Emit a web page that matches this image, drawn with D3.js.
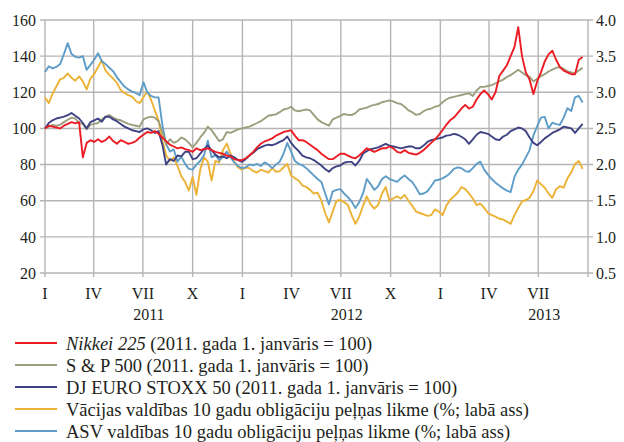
<!DOCTYPE html>
<html>
<head>
<meta charset="utf-8">
<script src="https://cdn.jsdelivr.net/npm/d3@7"></script>
<style>
  body { margin: 0; background: #fff; }
  svg { display: block; font-family: "Liberation Serif", "Times New Roman", serif; }
  .grid line { stroke: #b5b5b5; stroke-width: 1.4; }
  .tick-label { font-size: 16px; fill: #231f20; }
  .legend text { font-size: 18.5px; fill: #231f20; }
</style>
</head>
<body>
<svg class="chart"></svg>
<script>
// weekly observations, starting 1 Jan 2011
const startDate = new Date(2011, 0, 1);

const nikkei = [
  100, 101.5, 101, 100.5, 100, 101.5, 102.5, 103.5, 102.8, 103.5,
  84, 92, 93.5, 92.5, 94, 92.5, 93.5, 95.5, 93, 91.5,
  93.5, 92.5, 91.5, 92, 93, 95, 96.5, 98, 97.5, 98.5,
  97, 95, 93, 91, 90, 89, 89.5, 88.5, 88, 87,
  89, 88, 88.5, 89, 88, 87, 86.5, 86, 85, 84.5,
  83, 82.5, 82.4, 83.5, 85, 87, 89.5, 91.5, 92.8, 93.5,
  94.5, 96, 97, 98, 98.5, 99, 96, 93.5, 93.5, 92.5,
  91, 89.5, 88, 86, 84.5, 83, 83, 84.5, 86, 86,
  85, 84, 83.5, 85, 87, 89, 88, 87, 88, 89,
  89, 90, 89, 87, 86.5, 88, 86.5, 86, 85.5, 86.5,
  88, 90, 92, 94, 96.3, 99, 102, 104.5, 106, 108.5,
  111, 113, 111, 112, 116, 119, 121, 119, 116, 120,
  129, 132, 135, 140, 145, 156, 140, 131, 127, 119,
  126, 131, 137, 141, 143, 138, 134, 132, 131, 130,
  130, 138, 139.5
];

const sp500 = [
  100, 101, 102, 101.5, 102, 103.5, 104.8, 106, 105.5, 103,
  102.5, 99.5, 102, 102.5, 103, 105, 106.5, 107.4, 106, 105,
  104.5, 103.5, 102.5, 102, 101.5, 101, 105, 106, 106.5, 106,
  104, 98, 91, 94, 92, 93, 95, 94, 92, 89.5,
  92, 95, 97.5, 101, 99, 96, 93, 94, 98, 97.5,
  98.5, 99.5, 100, 100.5, 101, 102, 103, 104, 105.5, 107,
  107.4, 107.8, 109, 110.5, 111, 112, 110, 109.5, 110, 110.5,
  110, 107.5, 105, 103.5, 102.5, 101.5, 105, 106, 107, 108,
  107.5, 107.4, 108.5, 110.5, 111, 111.5, 112.5, 113, 113.5, 114.5,
  115, 115.5, 115, 114, 113.5, 112, 110, 109, 107.5, 108,
  109.5, 110.5, 111, 112, 112.5, 114.5, 116, 117, 117.5, 118,
  118.5, 119, 119.4, 118, 121, 123, 123, 123.5, 124, 125,
  126, 127, 128.5, 129.5, 131, 132.5, 131, 129.5, 128.5, 126,
  127.5, 129, 130, 131.5, 132.5, 133.5, 134, 133, 131.5, 131,
  130.5, 132, 133.5
];

const stoxx50 = [
  100, 103, 104.5, 105.5, 106, 106.5, 107.4, 108.5, 107, 105.5,
  103, 100, 103.5, 104.5, 105.5, 103.7, 106.5, 106.5, 105, 104,
  102.5, 101, 100, 99, 98.5, 98, 99.5, 100, 99, 97.5,
  98.5, 91, 80, 83, 82, 85, 84.5, 87, 87, 83,
  83.5, 86, 88.5, 90.5, 88, 85.5, 84, 84.5, 83.5, 85,
  84, 82.5, 81.5, 83, 85, 86.5, 88.5, 89.5, 90.5, 91,
  90.7, 91.5, 92.6, 93.5, 95.5, 92, 89.5, 87.5, 85, 84,
  83.5, 82.5, 81, 79.5, 77.5, 76, 78, 79, 79.5, 81,
  81.5, 81.5, 79.5, 82, 86, 87.5, 88.5, 89, 89.5, 90.5,
  91.5, 90.5, 90, 89.5, 89, 89.5, 90, 90, 89, 89,
  90.5, 92.5, 93.5, 94, 94.5, 95, 96, 96.3, 97, 96.5,
  95.4, 94, 91.5, 94, 96.5, 98, 97.5, 97, 95.5, 94,
  93.5, 95.5, 96.5, 98.5, 99.5, 100.5, 100, 98.5, 95, 92,
  90.7, 92.5, 94.5, 96, 97.5, 98.5, 99.5, 101, 100.5, 100,
  97.5, 100, 102.5
];

// percent, right axis
const bundYield = [
  2.93, 2.85, 2.98, 3.08, 3.18, 3.20, 3.26, 3.20, 3.16, 3.22,
  3.15, 3.04, 3.19, 3.25, 3.35, 3.44, 3.30, 3.24, 3.19, 3.13,
  3.03, 2.99, 2.96, 2.94, 2.88, 2.85, 2.93, 3.01, 2.90, 2.75,
  2.61, 2.33, 2.13, 2.05, 2.10, 1.98, 1.84, 1.76, 1.64, 1.83,
  1.58, 1.93, 2.10, 2.04, 1.78, 2.05, 2.03, 2.20, 2.29, 2.15,
  2.04, 1.96, 1.93, 1.96, 1.95, 1.91, 1.89, 1.93, 1.91, 1.89,
  1.95, 1.90, 1.91, 1.96, 2.01, 1.85, 1.81, 1.78, 1.71, 1.69,
  1.65, 1.60, 1.61, 1.50, 1.33, 1.20, 1.35, 1.50, 1.51, 1.48,
  1.44, 1.30, 1.18, 1.28, 1.43, 1.56, 1.45, 1.39, 1.44, 1.60,
  1.69, 1.50, 1.53, 1.56, 1.53, 1.58, 1.50, 1.43, 1.35, 1.33,
  1.31, 1.29, 1.30, 1.38, 1.35, 1.30, 1.43, 1.51, 1.56, 1.61,
  1.69, 1.66, 1.60, 1.53, 1.44, 1.46, 1.40, 1.33, 1.30, 1.28,
  1.25, 1.24, 1.21, 1.18, 1.30, 1.40, 1.49, 1.51, 1.54, 1.63,
  1.78, 1.73, 1.68, 1.60, 1.54, 1.66, 1.70, 1.68, 1.81, 1.89,
  2.01, 2.05, 1.94
];

const usYield = [
  3.28, 3.36, 3.33, 3.35, 3.39, 3.53, 3.68, 3.53, 3.49, 3.48,
  3.50, 3.31, 3.38, 3.45, 3.54, 3.43, 3.39, 3.34, 3.29, 3.21,
  3.14, 3.08, 3.04, 3.01, 2.99, 2.96, 3.14, 3.00, 2.95, 2.93,
  2.93, 2.55, 2.28, 2.18, 2.21, 2.04, 2.11, 2.01, 1.94, 1.93,
  2.00, 2.05, 2.13, 2.33, 2.10, 2.13, 2.06, 2.10, 2.18, 2.10,
  2.03, 1.98, 1.95, 1.96, 2.00, 1.99, 2.01, 1.98, 2.03, 2.00,
  1.95, 2.00, 2.04, 2.15, 2.30, 2.18, 2.05, 2.01, 1.99, 1.95,
  1.90, 1.85, 1.80, 1.76, 1.60, 1.45, 1.63, 1.65, 1.66, 1.60,
  1.55, 1.49, 1.40, 1.48, 1.60, 1.80, 1.73, 1.65, 1.70, 1.80,
  1.84, 1.80, 1.78, 1.76, 1.81, 1.85, 1.80, 1.76, 1.68, 1.59,
  1.60, 1.63, 1.70, 1.78, 1.79, 1.81, 1.84, 1.88, 1.94, 1.96,
  1.95, 1.91, 1.90, 1.95, 2.01, 2.04, 1.93, 1.86, 1.80, 1.75,
  1.71, 1.67, 1.64, 1.62, 1.83, 1.93, 2.00, 2.10, 2.20, 2.40,
  2.53, 2.65, 2.66, 2.50, 2.58, 2.56, 2.55, 2.65, 2.78, 2.74,
  2.93, 2.95, 2.86
];

const leftTicks = [20, 40, 60, 80, 100, 120, 140, 160];
const rightTicks = [0.5, 1.0, 1.5, 2.0, 2.5, 3.0, 3.5, 4.0];
const monthLabels = ["I", "IV", "VII", "X"];
const yearLabels = ["2011", "2012", "2013"];

const legendNames = [
  ["Nikkei 225", " (2011. gada 1. janvāris = 100)"],
  ["", "S & P 500 (2011. gada 1. janvāris = 100)"],
  ["", "DJ EURO STOXX 50 (2011. gada 1. janvāris = 100)"],
  ["", "Vācijas valdības 10 gadu obligāciju peļņas likme (%; labā ass)"],
  ["", "ASV valdības 10 gadu obligāciju peļņas likme (%; labā ass)"]
];
const colors = ["#ec1c24", "#9c9f7d", "#3f4282", "#ecb236", "#5d9dc8"];

const canvas = {width: 624, height: 442};
const plot = {left: 45, right: 588, top: 20, bottom: 273};

const x = d3.scaleTime()
    .domain([startDate, new Date(2013, 9, 1)])
    .range([plot.left, plot.right]);
const yLeft = d3.scaleLinear().domain([20, 160]).range([plot.bottom, plot.top]);
const yRight = d3.scaleLinear().domain([0.5, 4.0]).range([plot.bottom, plot.top]);

const svg = d3.select(".chart")
    .attr("width", canvas.width)
    .attr("height", canvas.height);

function weekDate(i) {
    return d3.timeDay.offset(startDate, i * 7);
}

const quarters = d3.timeMonth.every(3).range(startDate, d3.timeDay.offset(new Date(2013, 9, 1), 1));

function drawGrid() {
    const g = svg.append("g").classed("grid", true);
    g.selectAll(".h").data(leftTicks).enter().append("line")
        .attr("x1", plot.left - 5).attr("x2", plot.right + 5)
        .attr("y1", d => yLeft(d)).attr("y2", d => yLeft(d));
    g.selectAll(".v").data(quarters).enter().append("line")
        .attr("x1", d => x(d)).attr("x2", d => x(d))
        .attr("y1", plot.top).attr("y2", plot.bottom + 4);
}

function drawAxes() {
    svg.append("g").selectAll("text").data(leftTicks).enter().append("text")
        .classed("tick-label", true)
        .attr("x", plot.left - 9).attr("y", d => yLeft(d)).attr("dy", "0.36em")
        .attr("text-anchor", "end")
        .text(d => d);

    svg.append("g").selectAll("text").data(rightTicks).enter().append("text")
        .classed("tick-label", true)
        .attr("x", plot.right + 8).attr("y", d => yRight(d)).attr("dy", "0.36em")
        .text(d => d.toFixed(1));

    svg.append("g").selectAll("text").data(quarters.slice(0, -1)).enter().append("text")
        .classed("tick-label", true)
        .attr("x", d => x(d)).attr("y", 299)
        .attr("text-anchor", "middle")
        .text((d, i) => monthLabels[i % 4]);

    svg.append("g").selectAll("text").data(yearLabels).enter().append("text")
        .classed("tick-label", true)
        .attr("x", d => x(new Date(+d, 6, 12)))
        .attr("y", 320)
        .attr("text-anchor", "middle")
        .text(d => d);
}

function drawSeries() {
    const series = [
        {values: bundYield, y: yRight, color: colors[3]},
        {values: usYield, y: yRight, color: colors[4]},
        {values: sp500, y: yLeft, color: colors[1]},
        {values: stoxx50, y: yLeft, color: colors[2]},
        {values: nikkei, y: yLeft, color: colors[0]}
    ];
    series.forEach(function (s) {
        const line = d3.line()
            .x((d, i) => x(weekDate(i)))
            .y(d => s.y(d));
        svg.append("path")
            .datum(s.values)
            .attr("fill", "none")
            .attr("stroke", s.color)
            .attr("stroke-width", 1.9)
            .attr("stroke-linejoin", "round")
            .attr("d", line);
    });
}

function drawLegend() {
    const rows = svg.append("g").classed("legend", true)
        .selectAll("g").data(legendNames).enter().append("g")
        .attr("transform", (d, i) => "translate(0," + (343 + i * 22) + ")");
    rows.append("line")
        .attr("x1", 15).attr("x2", 57)
        .attr("stroke", (d, i) => colors[i])
        .attr("stroke-width", 2.2);
    const t = rows.append("text").attr("x", 66).attr("y", 7);
    t.append("tspan").style("font-style", "italic").text(d => d[0]);
    t.append("tspan").text(d => d[1]);
}

drawGrid();
drawSeries();
drawAxes();
drawLegend();
</script>
</body>
</html>
